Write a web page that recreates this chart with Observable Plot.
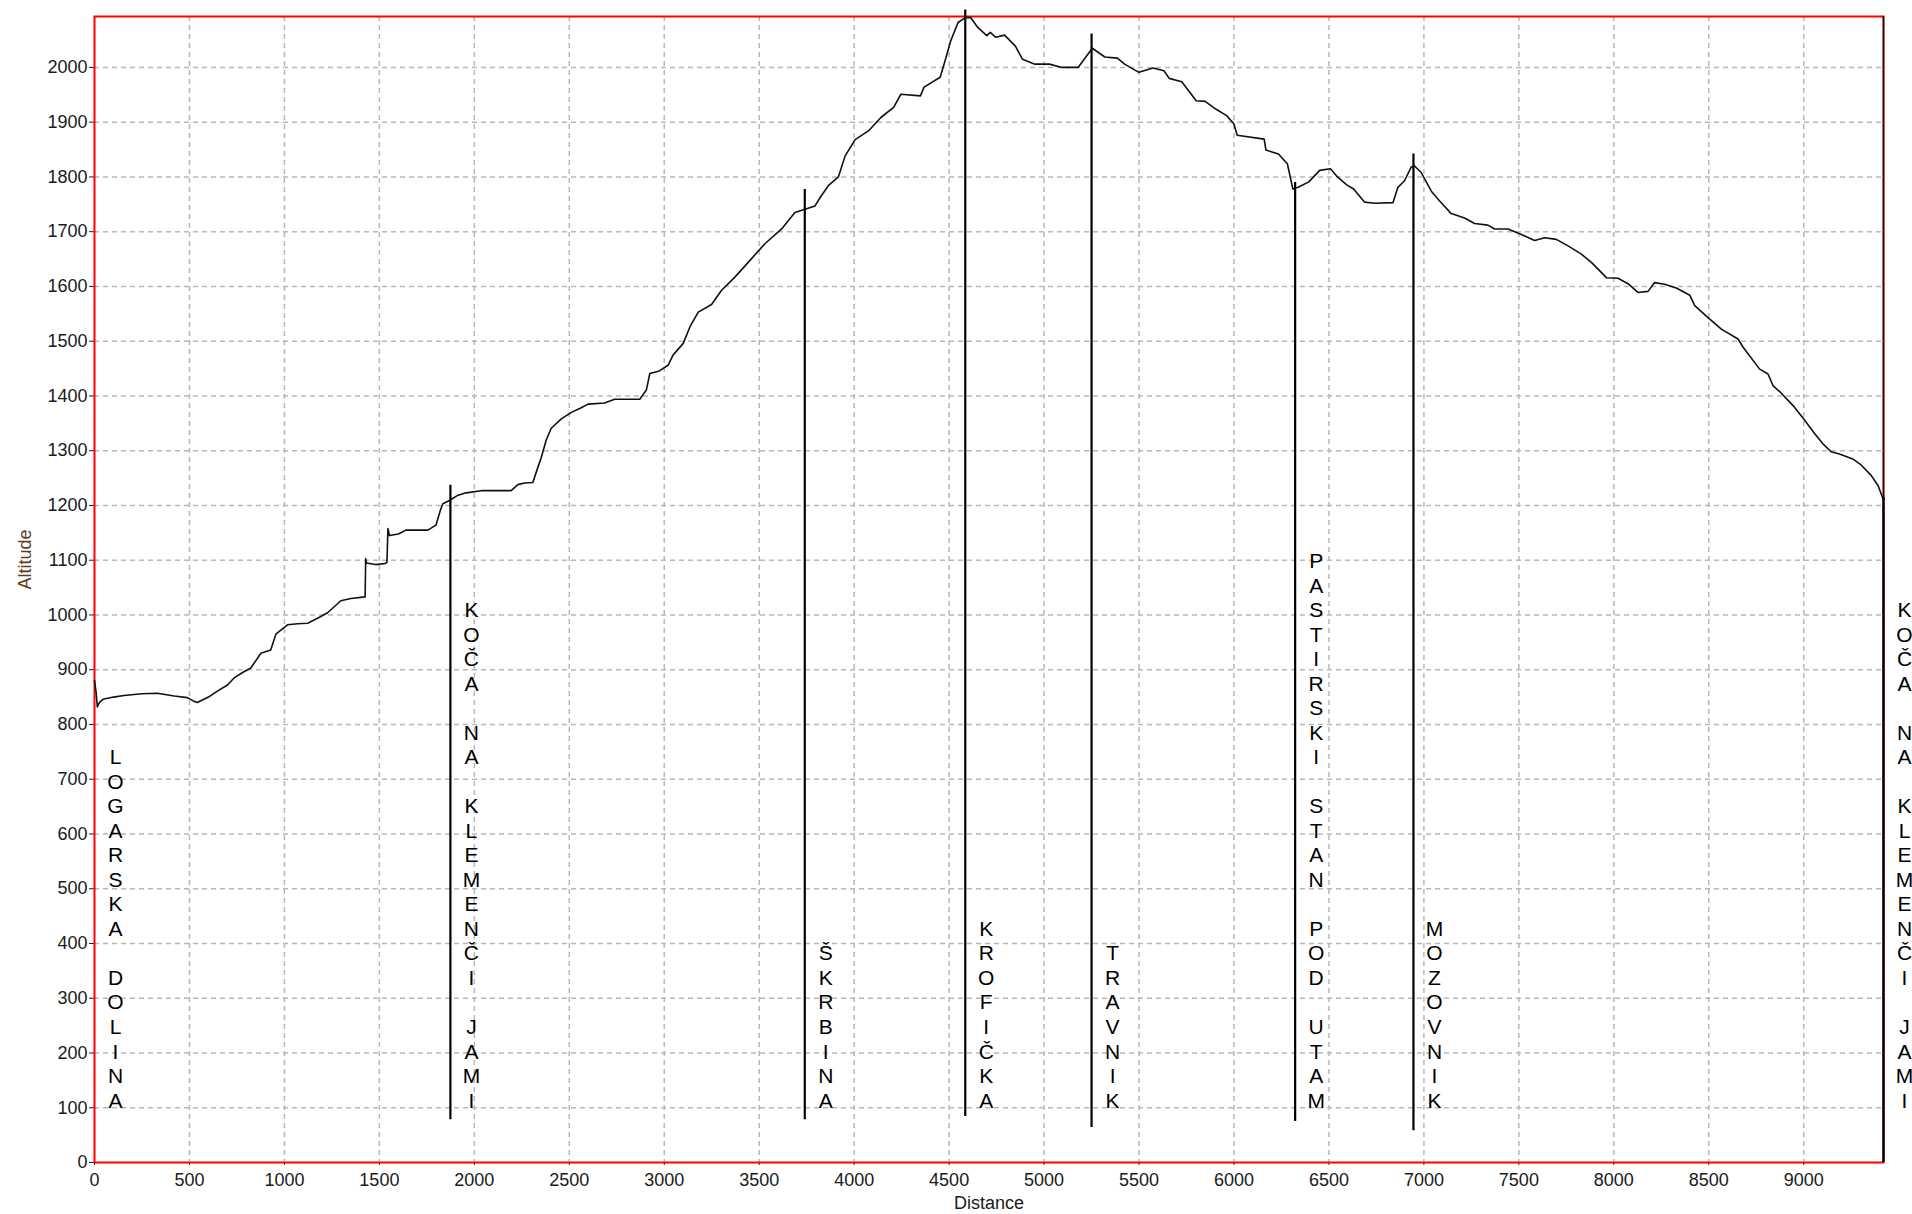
<!DOCTYPE html>
<html><head><meta charset="utf-8">
<script src="https://cdn.jsdelivr.net/npm/d3@7"></script>
<script src="https://cdn.jsdelivr.net/npm/@observablehq/plot@0.6"></script>
<style>
html,body{margin:0;padding:0;background:#fff;}
#chart svg{display:block;}
</style></head><body><div id="chart"></div>
<script>
// Elevation profile: distance (m) and altitude (m)
const distance = [0,8,15,25,45,100,155,250,331,420,489,520,541,600,647,700,735,780,823,876,928,955,1016,1070,1122,1180,1227,1297,1350,1425,1428,1432,1480,1530,1540,1545,1553,1600,1640,1755,1798,1820,1834,1869,1910,1957,2036,2194,2229,2264,2308,2335,2352,2379,2405,2458,2511,2560,2599,2686,2739,2871,2906,2924,2970,3020,3047,3100,3135,3179,3249,3302,3372,3442,3530,3618,3688,3741,3794,3820,3864,3917,3952,4005,4075,4142,4208,4246,4349,4368,4453,4481,4509,4547,4585,4613,4651,4698,4717,4745,4792,4849,4886,4952,5028,5094,5179,5254,5320,5386,5424,5499,5574,5631,5659,5725,5801,5848,5904,5961,5999,6017,6159,6168,6234,6281,6310,6338,6394,6451,6508,6545,6592,6630,6687,6743,6837,6863,6898,6933,6951,6986,7039,7083,7144,7214,7267,7337,7372,7443,7513,7583,7636,7697,7759,7829,7882,7961,8022,8075,8127,8180,8215,8268,8329,8400,8426,8496,8566,8654,8681,8768,8812,8838,8882,8950,9000,9056,9100,9144,9188,9258,9302,9355,9392,9407,9418];
const altitude = [880,860,832,840,846,850,853,856,857,852,849,843,840,850,861,872,885,895,903,930,936,965,982,984,985,995,1004,1026,1030,1033,1103,1095,1092,1094,1096,1158,1145,1148,1155,1155,1164,1190,1203,1209,1218,1223,1227,1227,1238,1241,1242,1270,1287,1320,1341,1358,1370,1378,1385,1387,1394,1394,1411,1441,1445,1456,1475,1496,1526,1553,1567,1593,1617,1644,1678,1705,1735,1741,1747,1762,1784,1800,1838,1868,1884,1909,1927,1951,1948,1964,1982,2015,2049,2082,2091,2091,2073,2058,2064,2055,2059,2039,2015,2006,2006,2000,2000,2035,2019,2017,2006,1991,1999,1994,1980,1974,1939,1938,1924,1912,1897,1876,1869,1849,1842,1824,1778,1781,1791,1812,1815,1800,1786,1778,1754,1752,1753,1781,1793,1818,1820,1808,1774,1756,1733,1725,1715,1712,1705,1705,1695,1684,1689,1686,1674,1659,1644,1616,1615,1605,1589,1591,1607,1604,1597,1584,1565,1543,1522,1504,1489,1449,1440,1419,1405,1380,1358,1332,1313,1298,1294,1285,1274,1255,1236,1222,1212];

// Waypoints along the route
const pointNames = ["LOGARSKA DOLINA","KOČA NA KLEMENČI JAMI","ŠKRBINA","KROFIČKA","TRAVNIK","PASTIRSKI STAN POD UTAM","MOZOVNIK","KOČA NA KLEMENČI JAMI"];
const pointDistance = [0,1874,3740,4585,5250,6322,6945,9420];
const markerTop = [null,1237,1777,2105,2061,1790,1842,1215];
const markerBottom = [null,78,78,84,64,75,58,0];

// Axis ticks
const xTicks = d3.range(0, 9001, 500);
const yTicks = d3.range(0, 2001, 100);
const xMax = d3.max(pointDistance);
const yMax = 2093;

const profile = distance.map((d, i) => ({d, a: altitude[i]}));
const points = pointNames.map((name, i) => ({name, d: pointDistance[i], top: markerTop[i], bottom: markerBottom[i]}));
const markers = points.filter(p => p.top != null);

const baseFont = "'Liberation Sans', Arial, sans-serif";

const chart = Plot.plot({
  width: 1912,
  height: 1214,
  marginLeft: 94,
  marginRight: 29,
  marginTop: 16,
  marginBottom: 52,
  x: {domain: [0, xMax]},
  y: {domain: [0, yMax]},
  style: {fontFamily: baseFont, fontSize: "18px", color: "#1a1a1a", background: "#fff", overflow: "visible"},
  marks: [
    Plot.gridX(xTicks.filter(t => t > 0), {stroke: "#b8b8b8", strokeOpacity: 1, strokeWidth: 1.5, strokeDasharray: "5,4"}),
    Plot.gridY(yTicks.filter(t => t > 0), {stroke: "#b8b8b8", strokeOpacity: 1, strokeWidth: 1.5, strokeDasharray: "5,4"}),
    Plot.axisX(xTicks, {tickSize: 3, tickPadding: 8, tickFormat: "d", label: null, stroke: "#1a1a1a", fill: "#1a1a1a", fontSize: 18}),
    Plot.axisY(yTicks, {tickSize: 5, tickPadding: 2, tickFormat: "d", label: null, stroke: "#1a1a1a", fill: "#1a1a1a", fontSize: 18}),
    Plot.frame({stroke: "#ff0000", strokeWidth: 2}),
    Plot.ruleX([xMax], {stroke: "#111", strokeWidth: 1.5}),
    Plot.line(profile, {x: "d", y: "a", stroke: "#111", strokeWidth: 1.6}),
    Plot.ruleX(markers, {x: "d", y1: "bottom", y2: "top", stroke: "#000", strokeWidth: 2.2}),
    Plot.text(points, {
      x: "d",
      frameAnchor: "bottom",
      dy: -55,
      dx: 21,
      text: p => p.name.split("").join("\n"),
      lineAnchor: "bottom",
      lineHeight: 1.167,
      textAnchor: "middle",
      fontSize: 21,
      fontFamily: baseFont,
      fill: "#000"
    }),
    Plot.text(["Distance"], {frameAnchor: "bottom", dy: 41, lineAnchor: "middle", fontSize: 18, fill: "#1a1a1a"}),
    Plot.text(["Altitude"], {frameAnchor: "left", dx: -69, rotate: -90, lineAnchor: "middle", fontSize: 18, fill: "#5c3d1e"})
  ]
});

document.getElementById("chart").appendChild(chart);
</script>
</body></html>
